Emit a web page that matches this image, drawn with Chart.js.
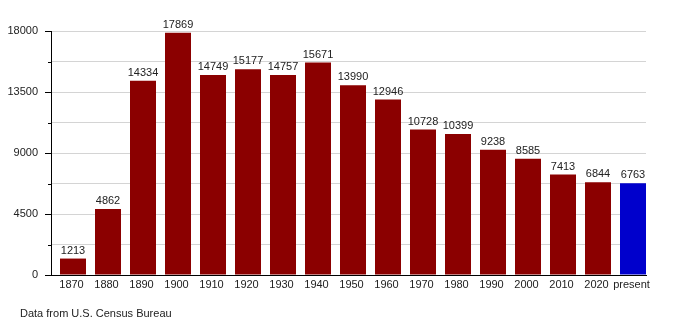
<!DOCTYPE html>
<html>
<head>
<meta charset="utf-8">
<script src="https://cdn.jsdelivr.net/npm/chart.js@4"></script>
<style>
  html, body { margin: 0; padding: 0; background: #fff; }
  #wrap { position: relative; width: 675px; height: 325px; }
  #note {
    position: absolute; left: 20px; top: 307px;
    font: 11px "Liberation Sans", Arial, sans-serif; color: #222;
  }
</style>
</head>
<body>
<div id="wrap">
  <canvas id="chart" width="675" height="325"></canvas>
  <div id="note">Data from U.S. Census Bureau</div>
</div>
<script>
const years = ['1870', '1880', '1890', '1900', '1910', '1920', '1930', '1940', '1950',
               '1960', '1970', '1980', '1990', '2000', '2010', '2020', 'present'];
const population = [1213, 4862, 14334, 17869, 14749, 15177, 14757, 15671, 13990,
                    12946, 10728, 10399, 9238, 8585, 7413, 6844, 6763];
const yMax = 18000;
const yStep = 2250;
const labelStep = 4500;

const FONT = "'Liberation Sans', Arial, sans-serif";

// bars sit at the right side of each slot, not centred
const shiftBars = {
    id: 'shiftBars',
    afterDatasetsUpdate(chart) {
        chart.getDatasetMeta(0).data.forEach(bar => { bar.x += 4.5; });
    }
};

// short tick marks for the unlabelled steps
const minorTicks = {
    id: 'minorTicks',
    afterDraw(chart) {
        const y = chart.scales.y;
        const ctx = chart.ctx;
        ctx.save();
        ctx.strokeStyle = '#000';
        ctx.lineWidth = 1;
        for (let v = yStep; v < yMax; v += yStep) {
            if (v % labelStep === 0) continue;
            const py = Math.round(y.getPixelForValue(v)) + 0.5;
            ctx.beginPath();
            ctx.moveTo(y.right - 3, py);
            ctx.lineTo(y.right, py);
            ctx.stroke();
        }
        ctx.restore();
    }
};

// values on top of each bar
const valueLabels = {
    id: 'valueLabels',
    afterDatasetsDraw(chart) {
        const ctx = chart.ctx;
        const meta = chart.getDatasetMeta(0);
        ctx.save();
        ctx.font = '11px ' + FONT;
        ctx.fillStyle = '#222';
        ctx.textAlign = 'center';
        ctx.textBaseline = 'alphabetic';
        meta.data.forEach((bar, i) => {
            ctx.fillText(String(population[i]), bar.x, bar.y - 5);
        });
        ctx.restore();
    }
};

new Chart(document.getElementById('chart'), {
    type: 'bar',
    data: {
        labels: years,
        datasets: [{
            data: population,
            backgroundColor: years.map(y => y === 'present' ? '#0000cc' : '#8b0000'),
            borderWidth: 0,
            barPercentage: 26 / 35,
            categoryPercentage: 1.0
        }]
    },
    options: {
        responsive: false,
        animation: false,
        layout: { padding: { top: 31, right: 29, left: 0, bottom: 0 } },
        plugins: {
            legend: { display: false },
            tooltip: { enabled: false }
        },
        scales: {
            x: {
                grid: { display: false, drawTicks: false },
                border: { color: '#000', width: 1 },
                ticks: {
                    color: '#222',
                    padding: 3,
                    labelOffset: 3,
                    maxRotation: 0,
                    autoSkip: false,
                    font: { family: FONT, size: 11 }
                },
                afterFit(scale) { scale.height = 50; }
            },
            y: {
                min: 0,
                max: yMax,
                border: { color: '#000', width: 1 },
                grid: {
                    color: ctx => ctx.tick && ctx.tick.value === 0 ? '#000' : '#d4d4d4',
                    tickColor: ctx => ctx.tick && ctx.tick.value % labelStep === 0 ? '#000' : 'rgba(0,0,0,0)',
                    tickLength: 6
                },
                ticks: {
                    stepSize: yStep,
                    color: '#222',
                    padding: 7,
                    font: { family: FONT, size: 11 },
                    callback: v => v % labelStep === 0 ? String(v) : ''
                },
                afterFit(scale) { scale.width = 51; }
            }
        }
    },
    plugins: [shiftBars, minorTicks, valueLabels]
});
</script>
</body>
</html>
